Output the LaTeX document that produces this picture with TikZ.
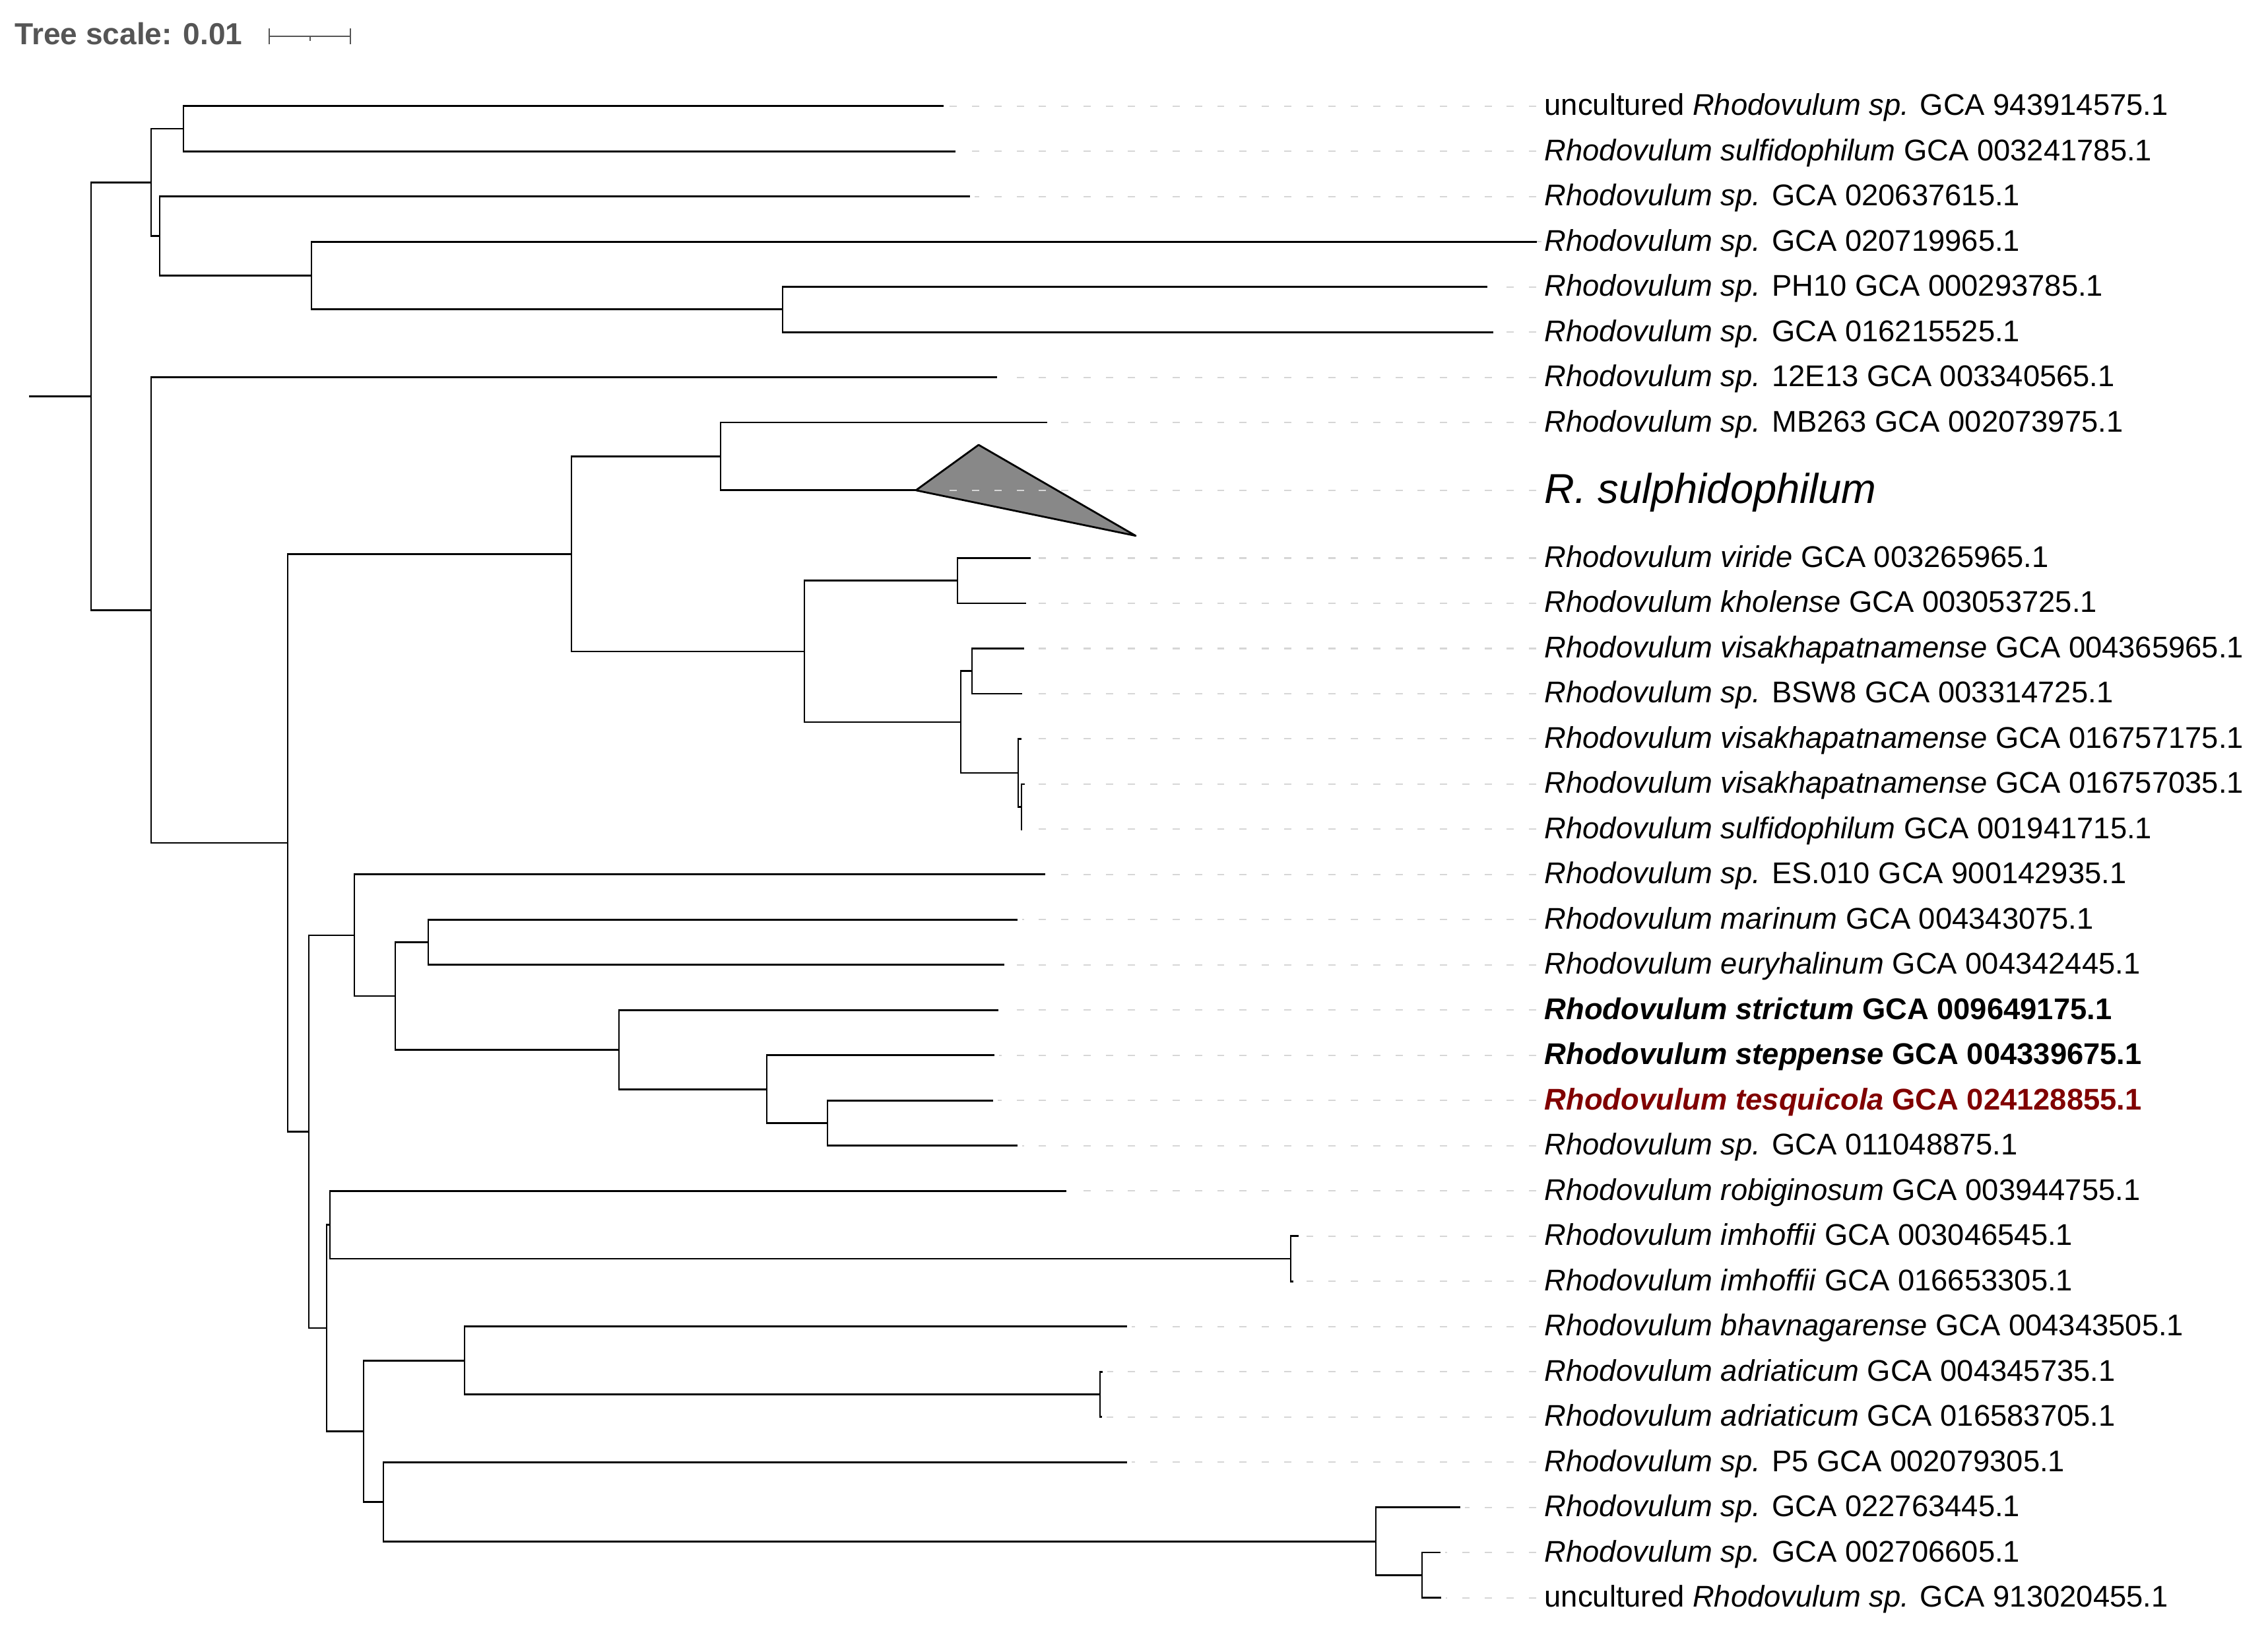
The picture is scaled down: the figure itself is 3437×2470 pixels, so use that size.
\documentclass[tikz,border=0pt]{standalone}
\usepackage{fontspec}
\setmainfont{Liberation Sans}
\usetikzlibrary{calc}
\definecolor{scalegray}{HTML}{555555}
\definecolor{leadgray}{HTML}{D6D6D6}
\definecolor{cladegray}{HTML}{888888}
\definecolor{newsp}{RGB}{128,0,0}

\begin{document}
\begin{tikzpicture}[x=0.01cm,y=-0.01cm]
	\tikzset{
	  branch/.style   = {draw, line width=0.8pt, line cap=rect},
	  leader/.style   = {draw=leadgray, line width=0.6pt, dash pattern=on 3.1pt off 6.5pt},
	  taxon/.style    = {anchor=base west, inner sep=0pt, font=\fontsize{12.9}{15}\selectfont},
	  clade/.style    = {draw, fill=cladegray, line width=0.8pt, line join=round},
	  scalebar/.style = {draw=scalegray, line width=0.8pt}
	}
	\useasboundingbox (0,0) rectangle (3437,2470);

	% scale
	\node[anchor=base west, inner sep=0pt, text=scalegray,
	      font=\fontsize{13.1}{15}\selectfont\bfseries] (ts) at (22,68) {Tree scale: 0.01};
	\coordinate (s0) at (408,55);
	\coordinate (s1) at (531,55);
	\coordinate (sm) at (470,55);
	\draw[scalebar] (s0) -- (s1);
	\draw[scalebar] ($(s0)+(0,-12)$) -- ($(s0)+(0,12)$);
	\draw[scalebar] ($(s1)+(0,-12)$) -- ($(s1)+(0,12)$);
	\draw[scalebar] (sm) -- ($(sm)+(0,7)$);

	% internal nodes
	\foreach \n/\x/\y in {root/138/600.3, atop/229/276.3, a12/278/195.0, a3456/242/357.6,
	    a456/472/417.5, a56/1186/468.9, bbot/229/924.3, b832/436/1276.9, b815/866/839.2,
	    b8C/1092/691.5, b915/1219/986.9, b910/1451/879.8, b1115/1456/1093.9,
	    b1112/1473/1016.8, b1315/1543/1170.9, b1415/1548/1222.2, c1632/468/1714.5,
	    c1622/537/1417.0, c1722/599/1509.0, c1718/649/1427.7, c1922/938/1590.3,
	    c2022/1162/1650.2, c2122/1254/1701.6, d2332/495/2012.0, d2325/500/1855.7,
	    d2425/1956/1907.0, d2632/551/2168.2, d2628/704/2061.1, d2728/1667/2112.5,
	    d2932/581/2275.2, d3032/2085/2335.1, d3132/2155/2386.4}
	  \coordinate (\n) at (\x,\y);
	\coordinate (r0) at (45,600.3);
	\coordinate (cl) at (1388,742.8);

	% leaves and labels
	\foreach \i/\x/\txt in {
	    1/1429/{uncultured \textit{Rhodovulum sp.} GCA 943914575.1},
	    2/1447/{\textit{Rhodovulum sulfidophilum} GCA 003241785.1},
	    3/1469/{\textit{Rhodovulum sp.} GCA 020637615.1},
	    4/2328/{\textit{Rhodovulum sp.} GCA 020719965.1},
	    5/2253/{\textit{Rhodovulum sp.} PH10 GCA 000293785.1},
	    6/2262/{\textit{Rhodovulum sp.} GCA 016215525.1},
	    7/1510/{\textit{Rhodovulum sp.} 12E13 GCA 003340565.1},
	    8/1586/{\textit{Rhodovulum sp.} MB263 GCA 002073975.1},
	    9/1561/{\textit{Rhodovulum viride} GCA 003265965.1},
	    10/1554/{\textit{Rhodovulum kholense} GCA 003053725.1},
	    11/1551/{\textit{Rhodovulum visakhapatnamense} GCA 004365965.1},
	    12/1548/{\textit{Rhodovulum sp.} BSW8 GCA 003314725.1},
	    13/1547/{\textit{Rhodovulum visakhapatnamense} GCA 016757175.1},
	    14/1552/{\textit{Rhodovulum visakhapatnamense} GCA 016757035.1},
	    15/1548/{\textit{Rhodovulum sulfidophilum} GCA 001941715.1},
	    16/1583/{\textit{Rhodovulum sp.} ES.010 GCA 900142935.1},
	    17/1541/{\textit{Rhodovulum marinum} GCA 004343075.1},
	    18/1521/{\textit{Rhodovulum euryhalinum} GCA 004342445.1},
	    19/1512/{\bfseries\textit{Rhodovulum strictum} GCA 009649175.1},
	    20/1506/{\bfseries\textit{Rhodovulum steppense} GCA 004339675.1},
	    21/1504/{\color{newsp}\bfseries\textit{Rhodovulum tesquicola} GCA 024128855.1},
	    22/1541/{\textit{Rhodovulum sp.} GCA 011048875.1},
	    23/1615/{\textit{Rhodovulum robiginosum} GCA 003944755.1},
	    24/1967/{\textit{Rhodovulum imhoffii} GCA 003046545.1},
	    25/1959/{\textit{Rhodovulum imhoffii} GCA 016653305.1},
	    26/1707/{\textit{Rhodovulum bhavnagarense} GCA 004343505.1},
	    27/1670/{\textit{Rhodovulum adriaticum} GCA 004345735.1},
	    28/1669/{\textit{Rhodovulum adriaticum} GCA 016583705.1},
	    29/1707/{\textit{Rhodovulum sp.} P5 GCA 002079305.1},
	    30/2212/{\textit{Rhodovulum sp.} GCA 022763445.1},
	    31/2182/{\textit{Rhodovulum sp.} GCA 002706605.1},
	    32/2183/{uncultured \textit{Rhodovulum sp.} GCA 913020455.1}}{
	  \pgfmathsetmacro\ry{160.7+(\i-1+2*(\i>8))*68.48}
	  \coordinate (l\i) at (\x,\ry);
	  \node[taxon] (t\i) at (2340,\ry+14) {\txt};
	  \draw[leader] ([xshift=-3.4pt]t\i.west |- l\i) -- ([xshift=2.3pt]l\i);
	}

	% collapsed clade
	\coordinate (ct) at (1483,674);
	\coordinate (cb) at (1721,811.7);
	\draw[clade] (cl) -- (ct) -- (cb) -- cycle;
	\node[taxon, font=\fontsize{18}{20}\selectfont\itshape] (tc) at (2340,762.8) {R. sulphidophilum};
	\draw[leader] ([xshift=-3.4pt]tc.west |- cl) -- ([xshift=11pt]cl);

	% branches
	\draw[branch] (r0) -- (root);
	\foreach \p/\c in {root/atop, root/bbot,
	    atop/a12, atop/a3456, a12/l1, a12/l2, a3456/l3, a3456/a456,
	    a456/l4, a456/a56, a56/l5, a56/l6,
	    bbot/l7, bbot/b832, b832/b815, b832/c1632,
	    b815/b8C, b815/b915, b8C/l8, b8C/cl,
	    b915/b910, b915/b1115, b910/l9, b910/l10,
	    b1115/b1112, b1115/b1315, b1112/l11, b1112/l12,
	    b1315/l13, b1315/b1415, b1415/l14, b1415/l15,
	    c1632/c1622, c1632/d2332, c1622/l16, c1622/c1722,
	    c1722/c1718, c1722/c1922, c1718/l17, c1718/l18,
	    c1922/l19, c1922/c2022, c2022/l20, c2022/c2122, c2122/l21, c2122/l22,
	    d2332/d2325, d2332/d2632, d2325/l23, d2325/d2425, d2425/l24, d2425/l25,
	    d2632/d2628, d2632/d2932, d2628/l26, d2628/d2728, d2728/l27, d2728/l28,
	    d2932/l29, d2932/d3032, d3032/l30, d3032/d3132, d3132/l31, d3132/l32}
	  \draw[branch] (\p) |- (\c);
\end{tikzpicture}
\end{document}
